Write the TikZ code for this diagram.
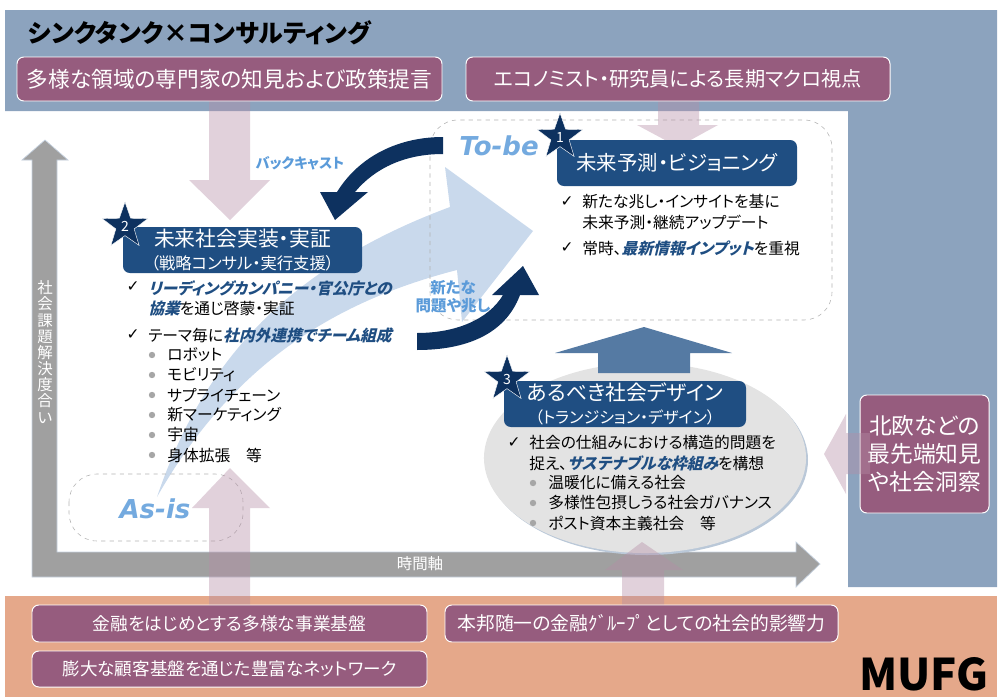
\documentclass[tikz,border=0pt]{standalone}
\usepackage{fontspec}
\usetikzlibrary{shapes.geometric}
\setmainfont{Noto Sans CJK JP}[RawFeature=+palt]
\newfontfamily\slantjp{Noto Sans CJK JP}[RawFeature=+palt,FakeSlant=0.25,FakeStretch=1.0]
\newfontfamily\latinit{DejaVu Sans}
\newfontfamily\checkfont{DejaVu Sans}
\definecolor{bandblue}{HTML}{8CA3BE}
\definecolor{bandorange}{HTML}{E5A88A}
\definecolor{plum}{HTML}{965C7E}
\definecolor{titleblue}{HTML}{1F4E82}
\definecolor{navy}{HTML}{0D315F}
\definecolor{skyblue}{HTML}{C9D9EC}
\definecolor{labelblue}{HTML}{5B9BD9}
\definecolor{axisgray}{HTML}{A0A0A0}
\definecolor{upblue}{HTML}{557AA3}
\newcommand{\fsz}[1]{\fontsize{#1}{#1}\selectfont}
\newcommand{\hl}[1]{{\slantjp\bfseries\color{titleblue}#1}}
\tikzset{
  pinkbox/.style={fill=plum,draw=white,line width=.7pt,rounded corners=.17cm},
  bluebox/.style={fill=titleblue,rounded corners=.17cm},
  softarrow/.style={fill=plum!70!white,fill opacity=.4},
  dashbox/.style={draw=black!30,dashed,line width=.4pt,rounded corners=.7cm},
  whitetext/.style={text=white,inner sep=0pt,align=center},
  listtext/.style={anchor=west,inner sep=0pt,font=\fsz{11.2}},
  checkmark/.style={inner sep=0pt,font=\checkfont\fsz{11}},
  dotmark/.style={circle,fill=black!35,inner sep=0pt,minimum size=.16cm},
  starmark/.style={star,star points=5,star point ratio=2.5,fill=navy,draw=white,line width=.3pt,inner sep=0pt,minimum size=1.2cm,text=white,font=\fsz{10}},
  tagtext/.style={text=labelblue,inner sep=0pt,align=center,font=\bfseries\fsz{10}}
}
\begin{document}
\begin{tikzpicture}[x=.025cm,y=-.025cm]
\useasboundingbox (0,0) rectangle (1000,697);
% bands
\fill[bandblue] (5,10)--(997,10)--(997,587)--(848,587)--(848,111)--(5,111)--cycle;
\fill[bandorange] (5,596) rectangle (997,697);
\node[anchor=west,inner sep=0pt,font=\bfseries\fsz{17.7}] (title) at (28,33) {シンクタンク×コンサルティング};
\node[inner sep=0pt,font=\bfseries\fsz{31}] (mufg) at (924,674) {MUFG};
% big arrow behind everything
\fill[skyblue] (157,497) .. controls (200,370) and (280,270) .. (450,207)--(445,167)--(533,231)--(462,322)--(457,270) .. controls (340,300) and (235,360) .. cycle;
% dashed frames
\draw[dashbox] (430,120) rectangle (832,320);
\draw[dashbox] (69,474) rectangle (243,541);
\node[inner sep=0pt,text=labelblue!85!white,font=\latinit\bfseries\itshape\fsz{18.5}] (tobe) at (499,146) {To-be};
\node[inner sep=0pt,text=labelblue!85!white,font=\latinit\bfseries\itshape\fsz{18.5}] (asis) at (155,509) {As-is};
% axes
\filldraw[fill=axisgray,draw=bandblue!50!white,line width=.5pt] (32,577)--(32,160)--(22,160)--(45,140)--(68,160)--(57,160)--(57,552)--(796,552)--(796,542)--(820,564)--(796,587)--(796,577)--cycle;
\node[whitetext,font=\fsz{11},text width=.4cm] (yaxis) at (45,352) {社\\[.5pt]会\\[.5pt]課\\[.5pt]題\\[.5pt]解\\[.5pt]決\\[.5pt]度\\[.5pt]合\\[.5pt]い};
\node[whitetext,font=\fsz{11}] (xaxis) at (420,564) {時間軸};
% ellipse
\fill[bandblue!60!white] (647,460) ellipse (161 and 95);
\node[ellipse,fill=black!11,minimum width=8.05cm,minimum height=4.75cm,inner sep=0pt] (oval) at (645,458) {};
% circular arrows
\fill[navy] (443,137) .. controls (400,137) and (360,155) .. (337,192)--(320,192)--(335,220)--(368,192)--(355,192) .. controls (375,168) and (405,154) .. (443,154)--cycle;
\fill[navy] (417,333) .. controls (455,333) and (488,320) .. (503,295)--(492,295)--(523,266)--(539,295)--(520,295) .. controls (505,335) and (465,350) .. (417,350)--cycle;
\fill[upblue] (598,373)--(598,353)--(555,353)--(644,327)--(732,353)--(690,353)--(690,373)--cycle;
\node[tagtext] (backcast) at (300,163) {バックキャスト};
\node[tagtext,font=\bfseries\fsz{11}] (newsigns) at (453,297) {新たな\\[2pt]問題や兆し};
% soft arrows
\fill[softarrow] (209,101)--(250,101)--(250,180)--(270,180)--(230,220)--(189,180)--(209,180)--cycle;
\fill[softarrow] (658,101)--(699,101)--(699,125)--(718,125)--(678,147)--(637,125)--(658,125)--cycle;
\fill[softarrow] (209,605)--(209,508)--(192,508)--(230,468)--(270,508)--(250,508)--(250,605)--cycle;
\fill[softarrow] (622,605)--(622,570)--(605,570)--(642,542)--(683,570)--(664,570)--(664,605)--cycle;
% plum boxes
\draw[pinkbox] (17,57) rectangle (442,101) node[midway,whitetext,font=\fsz{15.4}] (expert) {多様な領域の専門家の知見および政策提言};
\draw[pinkbox] (466,57) rectangle (890,101) node[midway,whitetext,font=\fsz{14.4}] (macro) {エコノミスト・研究員による長期マクロ視点};
\draw[pinkbox] (32,605) rectangle (427,642) node[midway,whitetext,font=\fsz{12.6}] (finance) {金融をはじめとする多様な事業基盤};
\draw[pinkbox] (32,651) rectangle (427,687) node[midway,whitetext,font=\fsz{12.5}] (network) {膨大な顧客基盤を通じた豊富なネットワーク};
\draw[pinkbox] (445,605) rectangle (838,642) node[midway,whitetext,font=\fsz{13.4}] (influence) {本邦随一の金融ｸﾞﾙｰﾌﾟとしての社会的影響力};
\draw[pinkbox] (860,395) rectangle (989,513) node[midway,whitetext,font=\fsz{16.2}] (nordic) {北欧などの\\[3.5pt]最先端知見\\[3.5pt]や社会洞察};
\fill[softarrow] (870,433)--(846,433)--(846,414)--(824,454)--(846,494)--(846,474)--(870,474)--cycle;
% blue heads
\fill[bluebox] (557,140) rectangle (797,186) node[midway,whitetext,font=\fsz{14.5}] (forecast) {未来予測・ビジョニング};
\fill[bluebox] (123,227) rectangle (362,273) node[midway,whitetext,font=\fsz{14.8}] (practice) {未来社会実装・実証\\[1pt]{\fsz{11.6}（戦略コンサル・実行支援）}};
\fill[bluebox] (504,381) rectangle (746,427) node[midway,whitetext,font=\fsz{14.8}] (design) {あるべき社会デザイン\\[1pt]{\fsz{11.4}（トランジション・デザイン）}};
\node[starmark] (star1) at (560,137) {1};
\node[starmark] (star2) at (125,226) {2};
\node[starmark] (star3) at (507,379) {3};
% to-be list
\node[checkmark] (c1) at (567,202) {✓};
\node[listtext] (t1) at (582,202) {新たな兆し・インサイトを基に};
\node[listtext] (t2) at (582,222) {未来予測・継続アップデート};
\node[checkmark] (c2) at (567,248) {✓};
\node[listtext] (t3) at (582,248) {常時、\hl{最新情報インプット}を重視};
% as-is list
\node[checkmark] (c3) at (133,287) {✓};
\node[listtext] (p1) at (148,288) {\hl{リーディングカンパニー・官公庁との}};
\node[listtext] (p2) at (148,309) {\hl{協業}を通じ啓蒙・実証};
\node[checkmark] (c4) at (133,335) {✓};
\node[listtext] (p3) at (148,335) {テーマ毎に\hl{社内外連携でチーム組成}};
\node[dotmark] (d1) at (152,355) {};
\node[listtext] (s1) at (167,355) {ロボット};
\node[dotmark] (d2) at (152,375) {};
\node[listtext] (s2) at (167,375) {モビリティ};
\node[dotmark] (d3) at (152,395) {};
\node[listtext] (s3) at (167,395) {サプライチェーン};
\node[dotmark] (d4) at (152,415) {};
\node[listtext] (s4) at (167,415) {新マーケティング};
\node[dotmark] (d5) at (152,435) {};
\node[listtext] (s5) at (167,435) {宇宙};
\node[dotmark] (d6) at (152,455) {};
\node[listtext] (s6) at (167,455) {身体拡張　等};
% design list
\node[checkmark] (c5) at (514,443) {✓};
\node[listtext] (q1) at (529,443) {社会の仕組みにおける構造的問題を};
\node[listtext] (q2) at (529,463) {捉え、\hl{サステナブルな枠組み}を構想};
\node[dotmark] (e1) at (533,483) {};
\node[listtext] (r1) at (548,483) {温暖化に備える社会};
\node[dotmark] (e2) at (533,503) {};
\node[listtext] (r2) at (548,503) {多様性包摂しうる社会ガバナンス};
\node[dotmark] (e3) at (533,523) {};
\node[listtext] (r3) at (548,523) {ポスト資本主義社会　等};
\end{tikzpicture}
\end{document}
